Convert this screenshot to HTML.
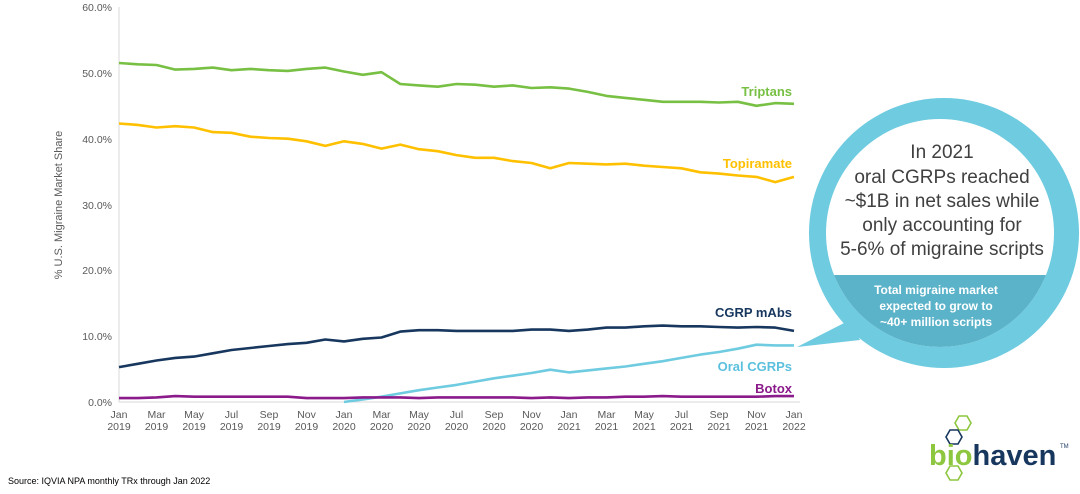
<!DOCTYPE html>
<html><head><meta charset="utf-8"><style>
body{margin:0;background:#fff;width:1080px;height:489px;overflow:hidden;font-family:"Liberation Sans",sans-serif}
</style></head><body>
<svg id="s" width="1080" height="489" xmlns="http://www.w3.org/2000/svg" font-family="Liberation Sans, sans-serif">
<g font-size="10.5" fill="#595959" text-anchor="end">
<text x="112" y="11">60.0%</text><text x="112" y="77">50.0%</text><text x="112" y="143">40.0%</text>
<text x="112" y="209">30.0%</text><text x="112" y="274">20.0%</text><text x="112" y="340">10.0%</text><text x="112" y="406">0.0%</text>
</g>
<line x1="119" y1="7" x2="119" y2="402" stroke="#d9d9d9"/>
<line x1="119" y1="402" x2="800" y2="402" stroke="#d9d9d9"/>
<text transform="translate(62,205) rotate(-90)" font-size="11" fill="#595959" text-anchor="middle">% U.S. Migraine Market Share</text>
<g id="xl" font-size="10.5" fill="#595959" text-anchor="middle"></g>
<g id="lines" fill="none" stroke-width="2.6" stroke-linejoin="round"></g>
<g font-weight="bold" font-size="13" text-anchor="end">
<text x="792" y="96" fill="#77c043">Triptans</text>
<text x="792" y="168" fill="#ffc000">Topiramate</text>
<text x="792" y="317" fill="#17375e">CGRP mAbs</text>
<text x="792" y="371" fill="#5bc0de">Oral CGRPs</text>
<text x="792" y="393" fill="#8b1a8b">Botox</text>
</g>
<path d="M797,347 L850,320 L860,340 Z" fill="#6ecbe0"/>
<circle cx="944" cy="233" r="135" fill="#6ecbe0"/>
<clipPath id="c"><circle cx="940" cy="233" r="114"/></clipPath>
<circle cx="940" cy="233" r="114" fill="#fff"/>
<rect x="800" y="275" width="280" height="100" fill="#5bb3c9" clip-path="url(#c)"/>
<g font-size="19" fill="#404040" text-anchor="middle">
<text x="942" y="158">In 2021</text><text x="942" y="183">oral CGRPs reached</text>
<text x="942" y="207">~$1B in net sales while</text><text x="942" y="231">only accounting for</text>
<text x="942" y="255">5-6% of migraine scripts</text>
</g>
<g font-size="12" fill="#fff" font-weight="bold" text-anchor="middle">
<text x="936" y="294">Total migraine market</text><text x="936" y="310">expected to grow to</text><text x="936" y="326">~40+ million scripts</text>
</g>
<text x="8" y="484" font-size="9" fill="#000">Source: IQVIA NPA monthly TRx through Jan 2022</text>
<g fill="none" stroke-width="1.6">
<polygon points="959,416 967,416 971,423 967,430 959,430 955,423" stroke="#8dc63f"/>
<polygon points="950,430 958,430 962,437 958,444 950,444 946,437" stroke="#17375e"/>
<polygon points="950,466 958,466 962,473 958,480 950,480 946,473" stroke="#8dc63f"/>
</g>
<text x="929" y="465" font-size="29" font-weight="bold" fill="#8dc63f">bio<tspan fill="#17375e">haven</tspan></text>
<text x="1060" y="448" font-size="6" fill="#17375e">TM</text>
</svg>
<script>
var D={
"#77c043":[51.5,51.3,51.2,50.5,50.6,50.8,50.4,50.6,50.4,50.3,50.6,50.8,50.2,49.7,50.1,48.3,48.1,47.9,48.3,48.2,47.9,48.1,47.7,47.8,47.6,47.1,46.5,46.2,45.9,45.6,45.6,45.6,45.5,45.6,45.0,45.4,45.3],
"#ffc000":[42.3,42.1,41.7,41.9,41.7,41.0,40.9,40.3,40.1,40.0,39.6,38.9,39.6,39.2,38.5,39.1,38.4,38.1,37.5,37.1,37.1,36.6,36.3,35.5,36.3,36.2,36.1,36.2,35.9,35.7,35.5,34.9,34.7,34.4,34.2,33.4,34.2],
"#17375e":[5.3,5.8,6.3,6.7,6.9,7.4,7.9,8.2,8.5,8.8,9.0,9.5,9.2,9.6,9.8,10.7,10.9,10.9,10.8,10.8,10.8,10.8,11.0,11.0,10.8,11.0,11.3,11.3,11.5,11.6,11.5,11.5,11.4,11.3,11.4,11.3,10.8],
"#6ecbe0":[null,null,null,null,null,null,null,null,null,null,null,null,0,0.4,0.8,1.3,1.8,2.2,2.6,3.1,3.6,4.0,4.4,4.9,4.5,4.8,5.1,5.4,5.8,6.2,6.7,7.2,7.6,8.1,8.7,8.6,8.6],
"#8b1a8b":[0.6,0.6,0.7,0.9,0.8,0.8,0.8,0.8,0.8,0.8,0.6,0.6,0.6,0.7,0.7,0.7,0.6,0.7,0.7,0.7,0.7,0.7,0.6,0.7,0.6,0.7,0.7,0.8,0.8,0.9,0.8,0.8,0.8,0.8,0.8,0.9,0.9]};
var g=document.getElementById('lines'),ns="http://www.w3.org/2000/svg";
for(var c in D){var d="",a=D[c];for(var i=0;i<a.length;i++){if(a[i]===null)continue;var x=119+i*18.75,y=402-a[i]*6.583;d+=(d?"L":"M")+x.toFixed(1)+","+y.toFixed(1);}
var p=document.createElementNS(ns,"path");p.setAttribute("d",d);p.setAttribute("stroke",c);g.appendChild(p);}
var m=["Jan","Mar","May","Jul","Sep","Nov"],xl=document.getElementById('xl');
for(var i=0;i<=36;i+=2){var x=119+i*18.75,yr=2019+Math.floor(i/12);
var t=document.createElementNS(ns,"text");t.setAttribute("x",x);t.setAttribute("y",418);t.textContent=m[(i%12)/2];xl.appendChild(t);
t=document.createElementNS(ns,"text");t.setAttribute("x",x);t.setAttribute("y",430);t.textContent=yr;xl.appendChild(t);}
</script>
</body></html>
